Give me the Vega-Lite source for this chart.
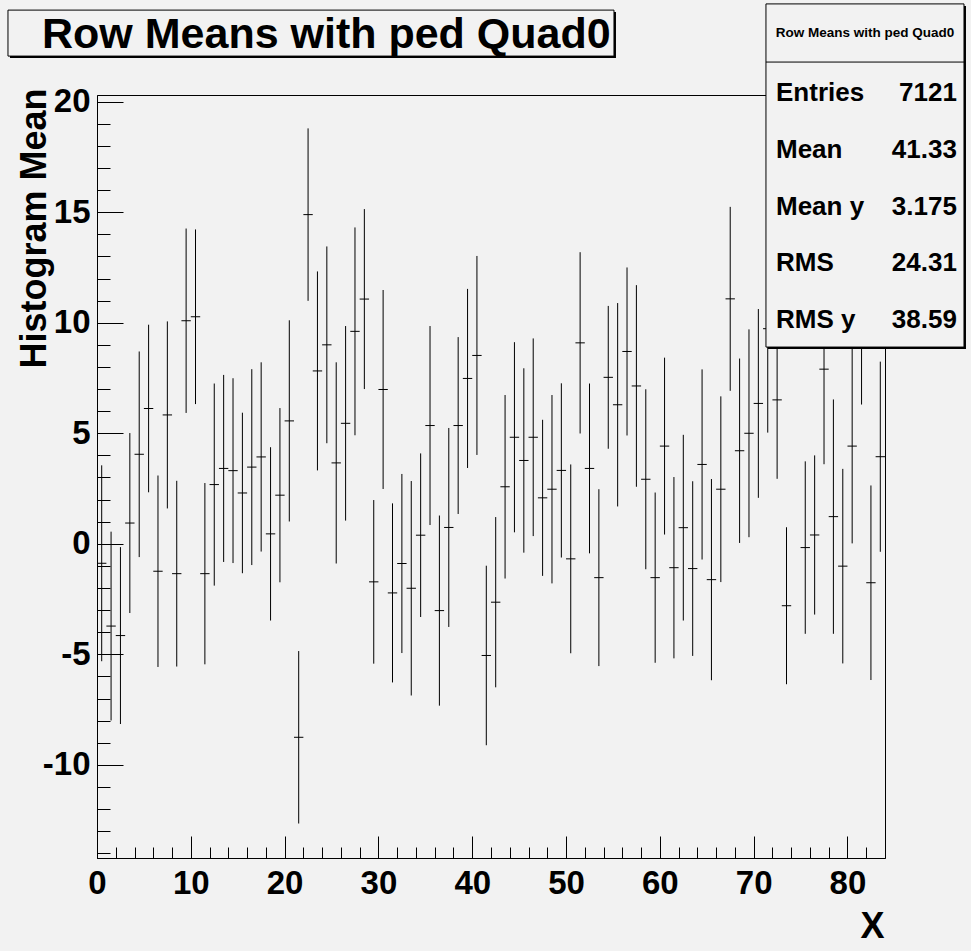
{
  "$schema": "https://vega.github.io/schema/vega-lite/v6.json",
  "width": 788,
  "height": 763,
  "autosize": "none",
  "padding": {"left": 97, "top": 95, "right": 86, "bottom": 93},
  "background": "#f2f2f2",
  "config": {
    "view": {"stroke": "black", "strokeWidth": 1},
    "font": "Liberation Sans",
    "axis": {
      "labelFont": "Liberation Sans", "titleFont": "Liberation Sans",
      "labelColor": "black", "titleColor": "black", "tickColor": "black", "domainColor": "black",
      "grid": false, "labelFlush": false, "labelOverlap": false, "labelBound": false,
      "tickWidth": 1, "domainWidth": 1
    }
  },
  "datasets": {
    "prof": [
      {"x0":0,"x":0.5,"x1":1,"y":-0.88,"ylo":-5.31,"yhi":3.55},
      {"x0":1,"x":1.5,"x1":2,"y":-3.72,"ylo":-7.99,"yhi":0.55},
      {"x0":2,"x":2.5,"x1":3,"y":-4.15,"ylo":-8.15,"yhi":-0.15},
      {"x0":3,"x":3.5,"x1":4,"y":0.94,"ylo":-3.13,"yhi":5.01},
      {"x0":4,"x":4.5,"x1":5,"y":4.05,"ylo":-0.6,"yhi":8.7},
      {"x0":5,"x":5.5,"x1":6,"y":6.12,"ylo":2.33,"yhi":9.91},
      {"x0":6,"x":6.5,"x1":7,"y":-1.24,"ylo":-5.57,"yhi":3.09},
      {"x0":7,"x":7.5,"x1":8,"y":5.83,"ylo":1.6,"yhi":10.06},
      {"x0":8,"x":8.5,"x1":9,"y":-1.35,"ylo":-5.55,"yhi":2.85},
      {"x0":9,"x":9.5,"x1":10,"y":10.09,"ylo":5.92,"yhi":14.26},
      {"x0":10,"x":10.5,"x1":11,"y":10.27,"ylo":6.32,"yhi":14.22},
      {"x0":11,"x":11.5,"x1":12,"y":-1.35,"ylo":-5.45,"yhi":2.75},
      {"x0":12,"x":12.5,"x1":13,"y":2.68,"ylo":-1.89,"yhi":7.25},
      {"x0":13,"x":13.5,"x1":14,"y":3.41,"ylo":-0.82,"yhi":7.64},
      {"x0":14,"x":14.5,"x1":15,"y":3.31,"ylo":-0.87,"yhi":7.49},
      {"x0":15,"x":15.5,"x1":16,"y":2.3,"ylo":-1.33,"yhi":5.93},
      {"x0":16,"x":16.5,"x1":17,"y":3.47,"ylo":-0.96,"yhi":7.9},
      {"x0":17,"x":17.5,"x1":18,"y":3.93,"ylo":-0.35,"yhi":8.21},
      {"x0":18,"x":18.5,"x1":19,"y":0.45,"ylo":-3.47,"yhi":4.37},
      {"x0":19,"x":19.5,"x1":20,"y":2.2,"ylo":-1.74,"yhi":6.14},
      {"x0":20,"x":20.5,"x1":21,"y":5.56,"ylo":1.01,"yhi":10.11},
      {"x0":21,"x":21.5,"x1":22,"y":-8.75,"ylo":-12.65,"yhi":-4.85},
      {"x0":22,"x":22.5,"x1":23,"y":14.89,"ylo":10.99,"yhi":18.79},
      {"x0":23,"x":23.5,"x1":24,"y":7.82,"ylo":3.32,"yhi":12.32},
      {"x0":24,"x":24.5,"x1":25,"y":9.0,"ylo":4.55,"yhi":13.45},
      {"x0":25,"x":25.5,"x1":26,"y":3.66,"ylo":-0.89,"yhi":8.21},
      {"x0":26,"x":26.5,"x1":27,"y":5.45,"ylo":1.05,"yhi":9.85},
      {"x0":27,"x":27.5,"x1":28,"y":9.61,"ylo":4.91,"yhi":14.31},
      {"x0":28,"x":28.5,"x1":29,"y":11.07,"ylo":7.0,"yhi":15.14},
      {"x0":29,"x":29.5,"x1":30,"y":-1.72,"ylo":-5.42,"yhi":1.98},
      {"x0":30,"x":30.5,"x1":31,"y":6.98,"ylo":2.48,"yhi":11.48},
      {"x0":31,"x":31.5,"x1":32,"y":-2.22,"ylo":-6.27,"yhi":1.83},
      {"x0":32,"x":32.5,"x1":33,"y":-0.89,"ylo":-4.94,"yhi":3.16},
      {"x0":33,"x":33.5,"x1":34,"y":-2.01,"ylo":-6.86,"yhi":2.84},
      {"x0":34,"x":34.5,"x1":35,"y":0.39,"ylo":-3.31,"yhi":4.09},
      {"x0":35,"x":35.5,"x1":36,"y":5.35,"ylo":0.85,"yhi":9.85},
      {"x0":36,"x":36.5,"x1":37,"y":-3.02,"ylo":-7.32,"yhi":1.28},
      {"x0":37,"x":37.5,"x1":38,"y":0.74,"ylo":-3.76,"yhi":5.24},
      {"x0":38,"x":38.5,"x1":39,"y":5.35,"ylo":1.35,"yhi":9.35},
      {"x0":39,"x":39.5,"x1":40,"y":7.48,"ylo":3.43,"yhi":11.53},
      {"x0":40,"x":40.5,"x1":41,"y":8.52,"ylo":4.02,"yhi":13.02},
      {"x0":41,"x":41.5,"x1":42,"y":-5.05,"ylo":-9.11,"yhi":-0.99},
      {"x0":42,"x":42.5,"x1":43,"y":-2.64,"ylo":-6.49,"yhi":1.21},
      {"x0":43,"x":43.5,"x1":44,"y":2.58,"ylo":-1.57,"yhi":6.73},
      {"x0":44,"x":44.5,"x1":45,"y":4.82,"ylo":0.52,"yhi":9.12},
      {"x0":45,"x":45.5,"x1":46,"y":3.77,"ylo":-0.4,"yhi":7.94},
      {"x0":46,"x":46.5,"x1":47,"y":4.82,"ylo":0.35,"yhi":9.29},
      {"x0":47,"x":47.5,"x1":48,"y":2.08,"ylo":-1.45,"yhi":5.61},
      {"x0":48,"x":48.5,"x1":49,"y":2.47,"ylo":-1.79,"yhi":6.73},
      {"x0":49,"x":49.5,"x1":50,"y":3.32,"ylo":-0.62,"yhi":7.26},
      {"x0":50,"x":50.5,"x1":51,"y":-0.68,"ylo":-4.95,"yhi":3.59},
      {"x0":51,"x":51.5,"x1":52,"y":9.09,"ylo":4.99,"yhi":13.19},
      {"x0":52,"x":52.5,"x1":53,"y":3.41,"ylo":-0.43,"yhi":7.25},
      {"x0":53,"x":53.5,"x1":54,"y":-1.53,"ylo":-5.53,"yhi":2.47},
      {"x0":54,"x":54.5,"x1":55,"y":7.53,"ylo":4.3,"yhi":10.76},
      {"x0":55,"x":55.5,"x1":56,"y":6.29,"ylo":1.69,"yhi":10.89},
      {"x0":56,"x":56.5,"x1":57,"y":8.7,"ylo":4.9,"yhi":12.5},
      {"x0":57,"x":57.5,"x1":58,"y":7.14,"ylo":2.58,"yhi":11.7},
      {"x0":58,"x":58.5,"x1":59,"y":2.92,"ylo":-1.15,"yhi":6.99},
      {"x0":59,"x":59.5,"x1":60,"y":-1.53,"ylo":-5.38,"yhi":2.32},
      {"x0":60,"x":60.5,"x1":61,"y":4.42,"ylo":0.42,"yhi":8.42},
      {"x0":61,"x":61.5,"x1":62,"y":-1.08,"ylo":-5.18,"yhi":3.02},
      {"x0":62,"x":62.5,"x1":63,"y":0.73,"ylo":-3.47,"yhi":4.93},
      {"x0":63,"x":63.5,"x1":64,"y":-1.12,"ylo":-5.07,"yhi":2.83},
      {"x0":64,"x":64.5,"x1":65,"y":3.59,"ylo":-0.71,"yhi":7.89},
      {"x0":65,"x":65.5,"x1":66,"y":-1.62,"ylo":-6.17,"yhi":2.93},
      {"x0":66,"x":66.5,"x1":67,"y":2.47,"ylo":-1.73,"yhi":6.67},
      {"x0":67,"x":67.5,"x1":68,"y":11.08,"ylo":6.92,"yhi":15.24},
      {"x0":68,"x":68.5,"x1":69,"y":4.21,"ylo":0.04,"yhi":8.38},
      {"x0":69,"x":69.5,"x1":70,"y":5.0,"ylo":0.3,"yhi":9.7},
      {"x0":70,"x":70.5,"x1":71,"y":6.35,"ylo":2.08,"yhi":10.62},
      {"x0":71,"x":71.5,"x1":72,"y":9.73,"ylo":5.03,"yhi":14.43},
      {"x0":72,"x":72.5,"x1":73,"y":6.51,"ylo":2.94,"yhi":10.08},
      {"x0":73,"x":73.5,"x1":74,"y":-2.8,"ylo":-6.35,"yhi":0.75},
      {"x0":75,"x":75.5,"x1":76,"y":-0.17,"ylo":-4.07,"yhi":3.73},
      {"x0":76,"x":76.5,"x1":77,"y":0.4,"ylo":-3.2,"yhi":4.0},
      {"x0":77,"x":77.5,"x1":78,"y":7.9,"ylo":3.6,"yhi":12.2},
      {"x0":78,"x":78.5,"x1":79,"y":1.23,"ylo":-4.07,"yhi":6.53},
      {"x0":79,"x":79.5,"x1":80,"y":-1.01,"ylo":-5.41,"yhi":3.39},
      {"x0":80,"x":80.5,"x1":81,"y":4.42,"ylo":0.02,"yhi":8.82},
      {"x0":81,"x":81.5,"x1":82,"y":10.6,"ylo":6.3,"yhi":14.9},
      {"x0":82,"x":82.5,"x1":83,"y":-1.76,"ylo":-6.16,"yhi":2.64},
      {"x0":83,"x":83.5,"x1":84,"y":3.94,"ylo":-0.36,"yhi":8.24}
    ],
    "stats": [
      {"stat": "Entries", "value": "7121"},
      {"stat": "Mean", "value": "41.33"},
      {"stat": "Mean y", "value": "3.175"},
      {"stat": "RMS", "value": "24.31"},
      {"stat": "RMS y", "value": "38.59"}
    ],
    "heads": [
      {"title": "Row Means with ped Quad0"}
    ]
  },
  "layer": [
    {
      "data": {"name": "prof"},
      "mark": {"type": "rule", "color": "black", "strokeWidth": 1},
      "encoding": {
        "x": {"field": "x", "type": "quantitative",
          "scale": {"domain": [0, 84], "nice": false, "zero": false},
          "axis": {"orient": "bottom", "values": [0,10,20,30,40,50,60,70,80], "tickSize": -22, "labelPadding": 31,
            "labelFontSize": 33, "labelFontWeight": "bold", "labelExpr": "'' + datum.value",
            "title": "X", "titleFontSize": 36, "titleFontWeight": "bold", "titleAlign": "right",
            "titleBaseline": "alphabetic", "titleX": 787, "titleY": 79, "titleAngle": 0}},
        "y": {"field": "ylo", "type": "quantitative",
          "scale": {"domain": [-14.21, 20.3], "nice": false, "zero": false},
          "axis": {"orient": "left", "values": [-10,-5,0,5,10,15,20], "tickSize": -26, "labelPadding": 33,
            "labelFontSize": 33, "labelFontWeight": "bold", "labelExpr": "'' + datum.value",
            "title": "Histogram Mean", "titleFontSize": 36, "titleFontWeight": "bold", "titleAngle": -90,
            "titleAlign": "right", "titleBaseline": "alphabetic", "titleX": -52, "titleY": -7}},
        "y2": {"field": "yhi"}
      }
    },
    {
      "data": {"name": "prof"},
      "mark": {"type": "rule", "color": "black", "strokeWidth": 1},
      "encoding": {
        "x": {"field": "x0", "type": "quantitative",
          "axis": {"orient": "bottom", "values": [2,4,6,8,12,14,16,18,22,24,26,28,32,34,36,38,42,44,46,48,52,54,56,58,62,64,66,68,72,74,76,78,82],
            "tickSize": -11, "labels": false, "domain": false, "title": null}},
        "x2": {"field": "x1"},
        "y": {"field": "y", "type": "quantitative",
          "scale": {"domain": [-14.21, 20.3], "nice": false, "zero": false},
          "axis": {"orient": "left", "values": [-14,-13,-12,-11,-9,-8,-7,-6,-4,-3,-2,-1,1,2,3,4,6,7,8,9,11,12,13,14,16,17,18,19],
            "tickSize": -13, "labels": false, "domain": false, "title": null}}
      }
    },
    {
      "data": {"values": [{}]},
      "mark": {"type": "rect", "color": "black", "xOffset": 2, "x2Offset": 2, "yOffset": 2, "y2Offset": 2},
      "encoding": {
        "x": {"datum": 71.31, "type": "quantitative", "axis": null},
        "x2": {"datum": 92.42},
        "y": {"datum": 24.42, "type": "quantitative", "scale": {"domain": [-14.21, 20.3], "nice": false, "zero": false}, "axis": null},
        "y2": {"datum": 8.9}
      }
    },
    {
      "data": {"values": [{}]},
      "mark": {"type": "rect", "fill": "#f2f2f2", "stroke": "black", "strokeWidth": 1},
      "encoding": {
        "x": {"datum": 71.31, "type": "quantitative", "axis": null},
        "x2": {"datum": 92.42},
        "y": {"datum": 24.42, "type": "quantitative", "scale": {"domain": [-14.21, 20.3], "nice": false, "zero": false}, "axis": null},
        "y2": {"datum": 8.9}
      }
    },
    {
      "data": {"values": [{}]},
      "mark": {"type": "rule", "color": "black", "strokeWidth": 1},
      "encoding": {
        "x": {"datum": 71.31, "type": "quantitative", "axis": null},
        "x2": {"datum": 92.42},
        "y": {"datum": 21.79, "type": "quantitative", "scale": {"domain": [-14.21, 20.3], "nice": false, "zero": false}, "axis": null}
      }
    },
    {
      "data": {"name": "heads"},
      "mark": {"type": "text", "fontSize": 13.5, "fontWeight": "bold", "font": "Liberation Sans", "align": "center", "baseline": "middle", "color": "black"},
      "encoding": {
        "x": {"datum": 81.87, "type": "quantitative", "axis": null},
        "y": {"datum": 23.1, "type": "quantitative", "scale": {"domain": [-14.21, 20.3], "nice": false, "zero": false}, "axis": null},
        "text": {"field": "title"}
      }
    },
    {
      "data": {"name": "stats"},
      "mark": {"type": "text", "fontSize": 26, "fontWeight": "bold", "font": "Liberation Sans", "align": "left", "baseline": "middle", "color": "black"},
      "encoding": {
        "x": {"datum": 72.38, "type": "quantitative", "axis": null},
        "y": {"field": "stat", "type": "ordinal", "sort": null,
          "scale": {"type": "point", "domain": ["Entries", "Mean", "Mean y", "RMS", "RMS y"], "range": [-2, 225], "padding": 0}, "axis": null},
        "text": {"field": "stat"}
      }
    },
    {
      "data": {"name": "stats"},
      "mark": {"type": "text", "fontSize": 26, "fontWeight": "bold", "font": "Liberation Sans", "align": "right", "baseline": "middle", "color": "black"},
      "encoding": {
        "x": {"datum": 91.67, "type": "quantitative", "axis": null},
        "y": {"field": "stat", "type": "ordinal", "sort": null,
          "scale": {"type": "point", "domain": ["Entries", "Mean", "Mean y", "RMS", "RMS y"], "range": [-2, 225], "padding": 0}, "axis": null},
        "text": {"field": "value"}
      }
    },
    {
      "data": {"values": [{}]},
      "mark": {"type": "rect", "color": "black", "xOffset": 2, "x2Offset": 2, "yOffset": 2, "y2Offset": 2},
      "encoding": {
        "x": {"datum": -9.49, "type": "quantitative", "axis": null},
        "x2": {"datum": 55.11},
        "y": {"datum": 24.14, "type": "quantitative", "scale": {"domain": [-14.21, 20.3], "nice": false, "zero": false}, "axis": null},
        "y2": {"datum": 22.06}
      }
    },
    {
      "data": {"values": [{}]},
      "mark": {"type": "rect", "fill": "#f2f2f2", "stroke": "black", "strokeWidth": 1},
      "encoding": {
        "x": {"datum": -9.49, "type": "quantitative", "axis": null},
        "x2": {"datum": 55.11},
        "y": {"datum": 24.14, "type": "quantitative", "scale": {"domain": [-14.21, 20.3], "nice": false, "zero": false}, "axis": null},
        "y2": {"datum": 22.06}
      }
    },
    {
      "data": {"name": "heads"},
      "mark": {"type": "text", "fontSize": 43, "fontWeight": "bold", "font": "Liberation Sans", "align": "left", "baseline": "alphabetic", "color": "black"},
      "encoding": {
        "x": {"datum": -5.86, "type": "quantitative", "axis": null},
        "y": {"datum": 22.43, "type": "quantitative", "scale": {"domain": [-14.21, 20.3], "nice": false, "zero": false}, "axis": null},
        "text": {"field": "title"}
      }
    }
  ],
  "resolve": {"scale": {"y": "independent"}, "axis": {"x": "independent", "y": "independent"}}
}
